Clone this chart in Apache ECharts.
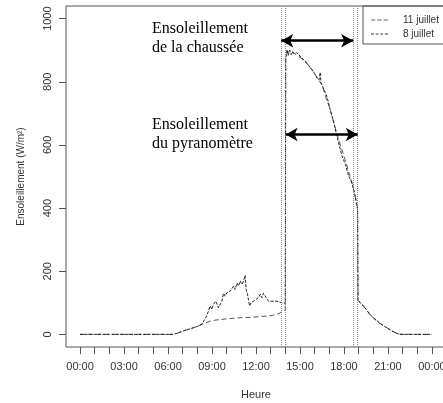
<!DOCTYPE html>
<html>
<head>
<meta charset="utf-8">
<script src="https://cdn.jsdelivr.net/npm/echarts@6/dist/echarts.min.js"></script>
<style>html,body{margin:0;padding:0;background:#fff;}#c{width:443px;height:403px;}</style>
</head>
<body>
<div id="c"></div>
<script>
// ---- Data (hour of day, W/m²) ----
const seriesNames = ['11 juillet', '8 juillet'];

const hours11 = [0, 1, 2, 3, 4, 5, 6, 6.3, 6.6, 7.05, 7.4, 7.73, 8.0, 8.3, 8.6, 8.87, 9.2, 9.56, 10.0, 10.47, 11.0, 11.6, 12.2, 12.74, 13.1, 13.4, 13.77, 14.0,
  14.03, 14.15, 14.3, 14.6, 15.0, 15.5, 16.0, 16.5, 16.8, 17.06, 17.5, 18.07, 18.52, 18.75, 18.93,
  18.96, 19.2, 19.5, 19.8, 20.37, 20.93, 21.4, 21.73, 22.0, 23.0, 24];
const values11 = [0, 0, 0, 0, 0, 0, 0, 0, 3, 11, 16, 21, 25, 32, 37, 42, 45, 47, 49, 51, 53, 54, 56, 58, 60, 63, 71, 77,
  875, 893, 897, 890, 878, 857, 826, 790, 746, 712, 638, 554, 485, 440, 400,
  108, 96, 80, 60, 37, 21, 8, 1, 0, 0, 0];

const hours8 = [0, 1, 2, 3, 4, 5, 6, 6.3, 6.6, 7.05, 7.4, 7.73, 8.0, 8.3, 8.42, 8.6, 8.76, 8.87, 8.99, 9.1, 9.26, 9.44, 9.56, 9.67, 9.78, 9.9, 10.01, 10.12, 10.24, 10.35, 10.47, 10.58, 10.7, 10.81, 10.92, 11.04, 11.15, 11.26, 11.33, 11.42, 11.56, 11.67, 11.83, 12.01, 12.17, 12.29, 12.4, 12.51, 12.7, 12.85, 12.97, 13.42, 13.77, 14.0,
  14.02, 14.12, 14.2, 14.3, 14.4, 14.5, 14.6, 14.75, 14.9, 15.1, 15.36, 15.6, 15.81, 16.0, 16.16, 16.3, 16.38, 16.43, 16.5, 16.84, 17.06, 17.3, 17.52, 17.86, 18.1, 18.32, 18.55, 18.77, 18.93,
  18.95, 19.1, 19.3, 19.5, 19.8, 20.0, 20.5, 21.0, 21.5, 21.8, 22.0, 23.0, 24];
const values8 = [0, 0, 0, 0, 0, 0, 0, 0, 3, 11, 16, 21, 25, 32, 37, 55, 74, 90, 79, 95, 105, 84, 79, 105, 130, 121, 132, 126, 137, 142, 153, 142, 163, 153, 169, 158, 169, 187, 142, 127, 90, 100, 105, 111, 116, 127, 116, 130, 116, 105, 106, 105, 100, 98,
  870, 902, 884, 900, 886, 896, 889, 893, 887, 876, 865, 851, 839, 826, 812, 806, 830, 797, 790, 753, 712, 672, 628, 566, 538, 502, 478, 438, 396,
  110, 100, 92, 80, 62, 53, 34, 18, 5, 0, 0, 0, 0];

// Annotations: sun-exposure boundaries (hours) and the arrows
const sunBoundaries = [13.72, 14.02, 18.63, 18.94];
const roadSun = [13.72, 18.63];      // Ensoleillement de la chaussée
const pyranoSun = [14.02, 18.94];    // Ensoleillement du pyranomètre
const arrowLevels = [930, 633];

const xTicks = [0,1,2,3,4,5,6,7,8,9,10,11,12,13,14,15,16,17,18,19,20,21,22,23,24];
const xLabels = [0, 3, 6, 9, 12, 15, 18, 21, 24];
const yTicks = [0, 200, 400, 600, 800, 1000];

const pair = (h, v) => h.map((x, i) => [x, v[i]]);
const fmtHour = v => String(Math.round(v) % 24).padStart(2, '0') + ':00';

// legend icons: dash patterns drawn as filled bars
const iconLong = 'path://M0,0h4.3v1h-4.3z M6.3,0h4.3v1h-4.3z M12.6,0h4.4v1h-4.4z';
const iconShort = 'path://M0,0h3v1h-3z M4.6,0h3v1h-3z M9.2,0h3v1h-3z M13.8,0h3.2v1h-3.2z';

const chart = echarts.init(document.getElementById('c'), null, {renderer: 'canvas'});
const axisText = {color: '#333', fontSize: 11, fontFamily: 'Liberation Sans, Arial, sans-serif'};

chart.setOption({
  animation: false,
  backgroundColor: '#fff',
  grid: {left: 66, top: 6, width: 380, height: 341, show: true, borderColor: '#555', borderWidth: 1,
    backgroundColor: 'transparent', containLabel: false, outerBoundsMode: 'none'},
  xAxis: {
    type: 'value', min: -0.96, max: 24.96,
    name: 'Heure', nameLocation: 'middle', nameGap: 42,
    nameTextStyle: axisText,
    axisLine: {show: false, onZero: false},
    splitLine: {show: false},
    axisTick: {show: true, inside: false, length: 7, lineStyle: {color: '#555'}, customValues: xTicks},
    axisLabel: {margin: 14, ...axisText, customValues: xLabels, formatter: fmtHour}
  },
  yAxis: {
    type: 'value', min: -40, max: 1040,
    name: 'Ensoleillement (W/m²)', nameLocation: 'middle', nameGap: 40, nameRotate: 90,
    nameTextStyle: {...axisText, fontSize: 10},
    axisLine: {show: false, onZero: false},
    splitLine: {show: false},
    axisTick: {show: true, inside: false, length: 7, lineStyle: {color: '#555'}, customValues: yTicks},
    axisLabel: {margin: 13, rotate: 90, ...axisText, customValues: yTicks, formatter: v => String(v)}
  },
  legend: {
    orient: 'vertical', left: 363, top: 6,
    data: [{name: seriesNames[0], icon: iconLong}, {name: seriesNames[1], icon: iconShort}],
    borderColor: '#555', borderWidth: 1, borderRadius: 0,
    padding: [9, 40, 5, 8],
    itemWidth: 17, itemHeight: 1.2, itemGap: 4,
    textStyle: {color: '#333', fontSize: 10, fontFamily: 'Liberation Sans, Arial, sans-serif', padding: [0, 0, 0, 10]}
  },
  graphic: [
    {type: 'text', left: 152, top: 20, style: {text: 'Ensoleillement\nde la chaussée', font: '16px "Liberation Serif"', lineHeight: 18.5, fill: '#000'}},
    {type: 'text', left: 152, top: 116, style: {text: 'Ensoleillement\ndu pyranomètre', font: '16px "Liberation Serif"', lineHeight: 18.5, fill: '#000'}}
  ],
  series: [
    {
      name: seriesNames[0], type: 'line', symbol: 'none', data: pair(hours11, values11),
      lineStyle: {color: '#555', width: 1, type: [5, 3]},
      itemStyle: {color: '#666'},
      markLine: {
        silent: true, symbol: 'none', label: {show: false},
        lineStyle: {color: '#888', width: 1, type: [1, 1]},
        data: sunBoundaries.map(h => ({xAxis: h}))
      }
    },
    {
      name: seriesNames[1], type: 'line', symbol: 'none', data: pair(hours8, values8),
      lineStyle: {color: '#222', width: 1, type: [3, 1.5]},
      itemStyle: {color: '#444'},
      markLine: {
        silent: true, symbol: ['arrow', 'arrow'], symbolSize: [10, 12], label: {show: false},
        lineStyle: {color: '#000', width: 2.5, type: 'solid'},
        data: [
          [{coord: [roadSun[0], arrowLevels[0]]}, {coord: [roadSun[1], arrowLevels[0]]}],
          [{coord: [pyranoSun[0], arrowLevels[1]]}, {coord: [pyranoSun[1], arrowLevels[1]]}]
        ]
      }
    }
  ]
});
</script>
</body>
</html>
